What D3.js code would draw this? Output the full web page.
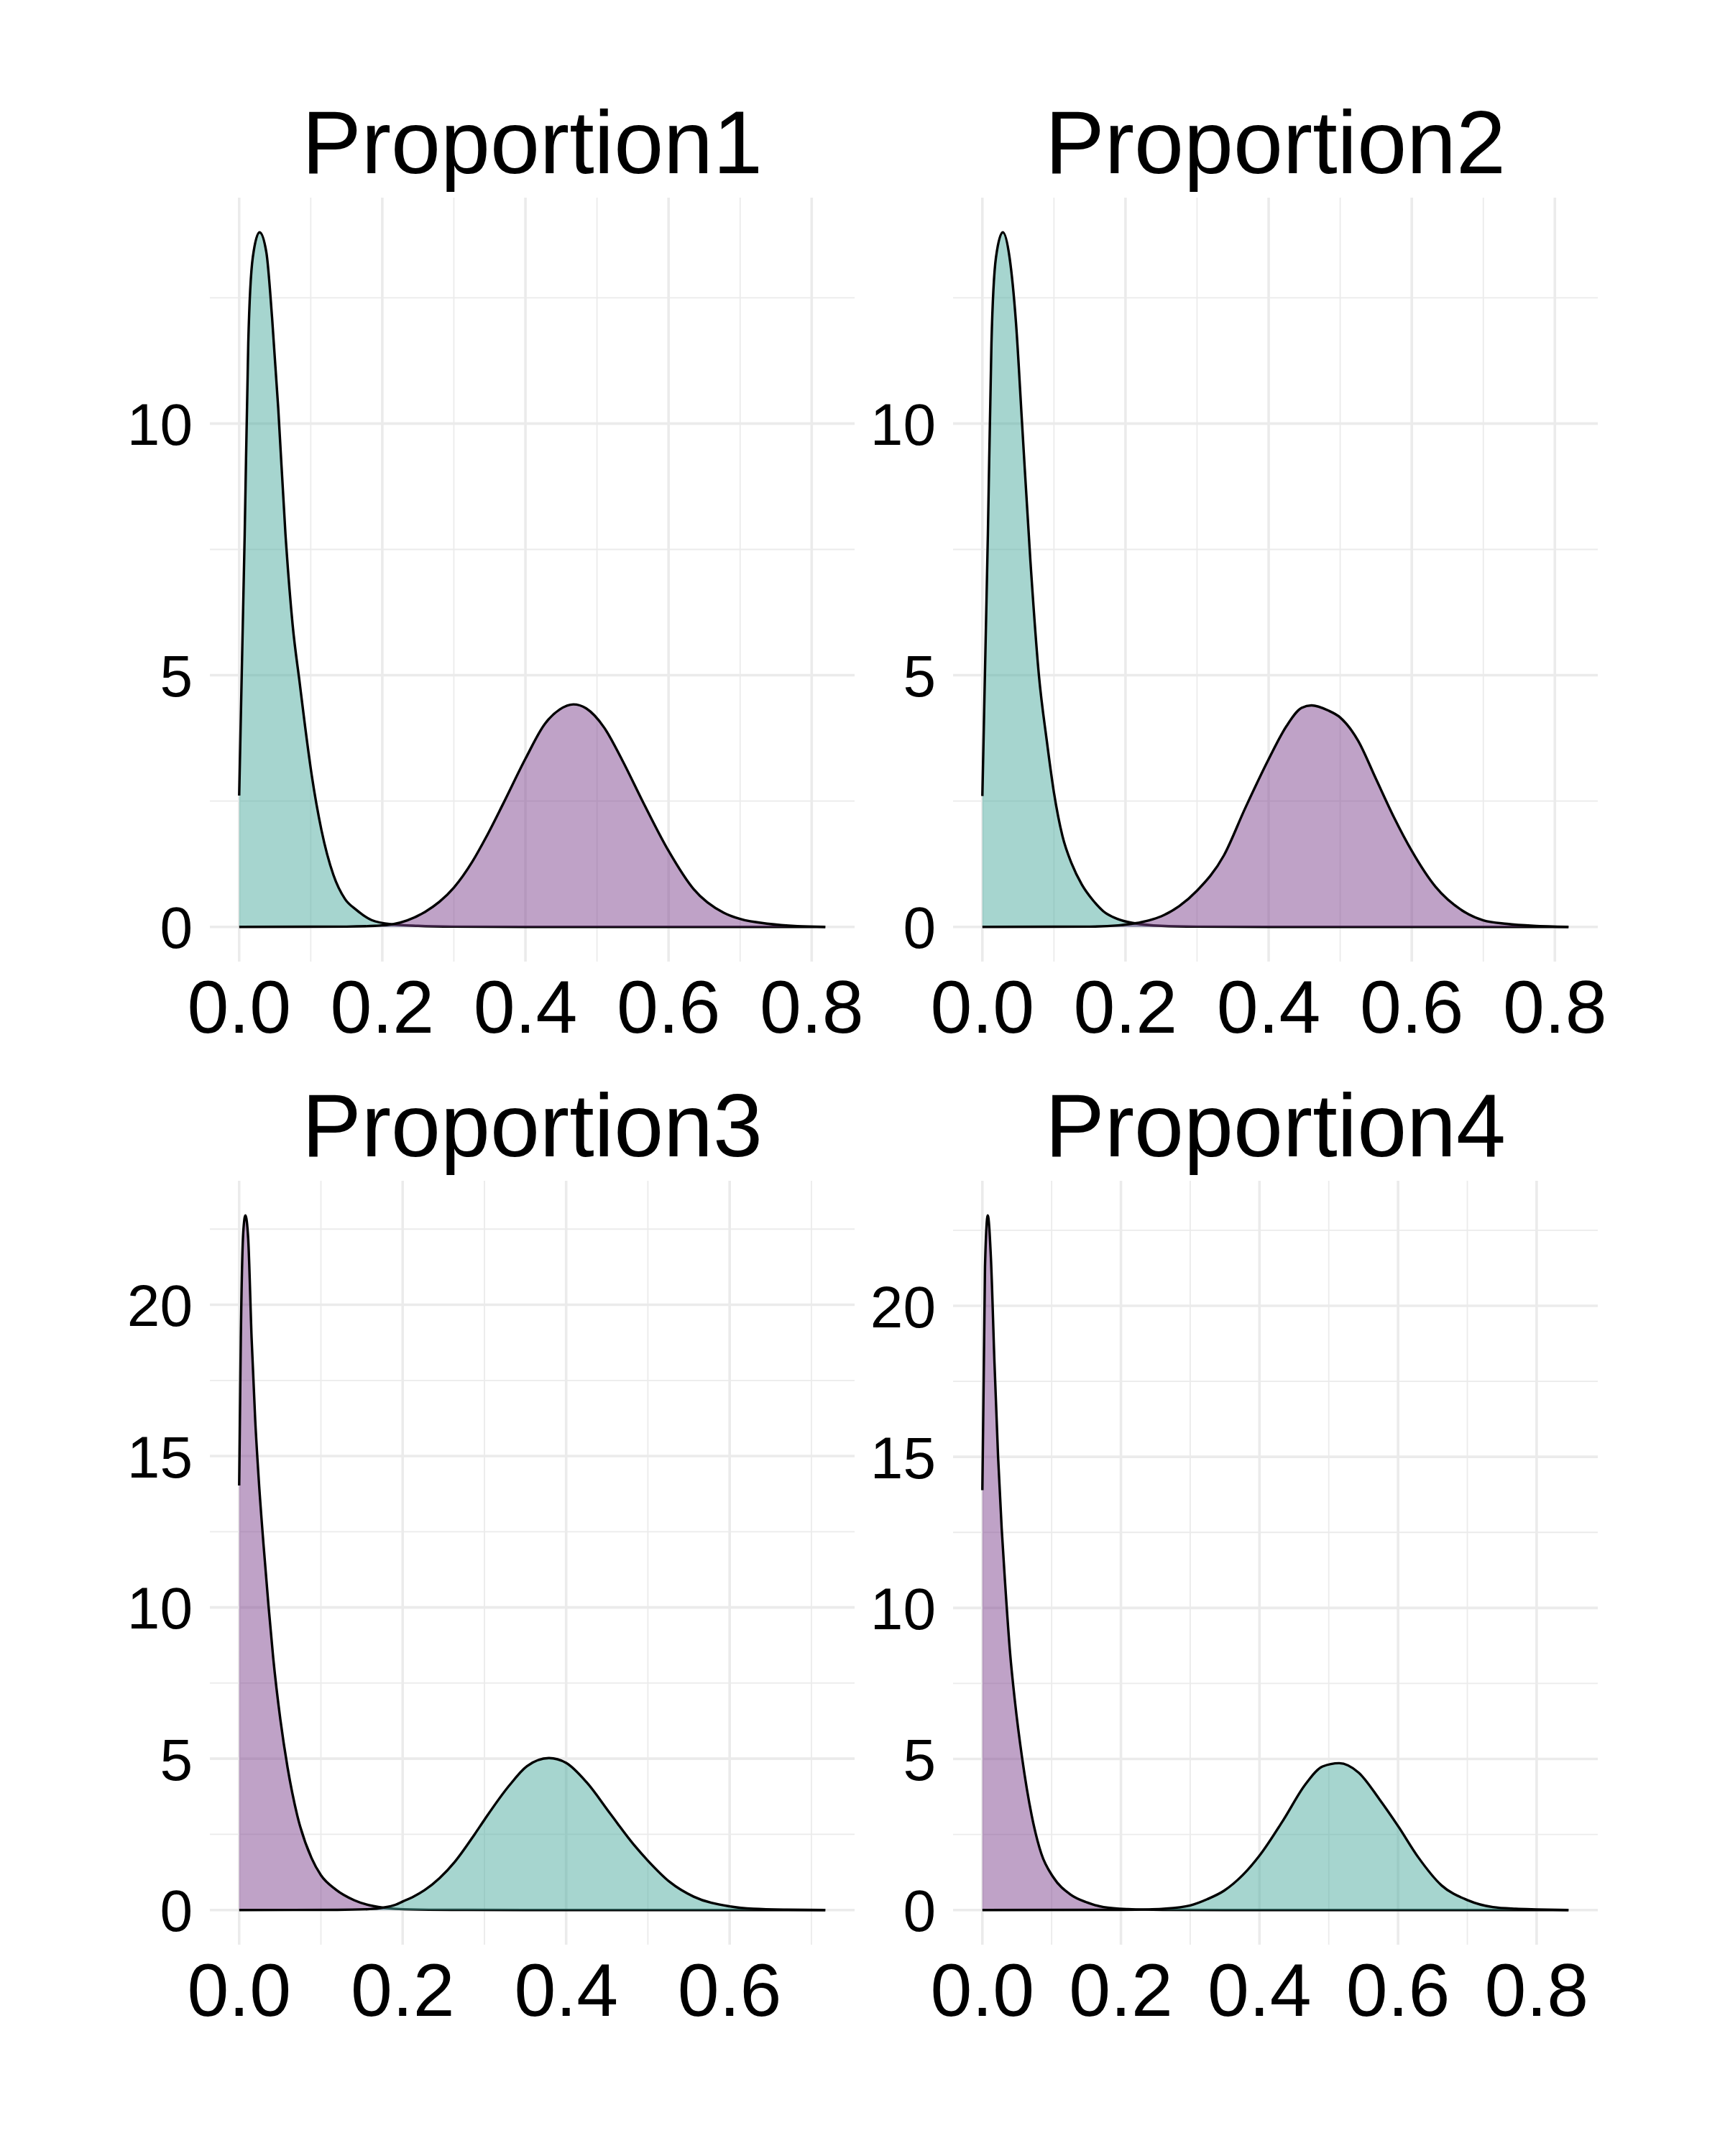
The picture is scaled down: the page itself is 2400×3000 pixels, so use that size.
<!doctype html>
<html>
<head>
    <meta charset="utf-8">
    <title>Proportion densities</title>
    <script src="https://cdnjs.cloudflare.com/ajax/libs/d3/7.8.5/d3.min.js"></script>
    <style>
        body { margin: 0; background: #fff; }
        svg { display: block; font-family: "Liberation Sans", Arial, sans-serif; }
    </style>
</head>
<body>
<svg width="2400" height="3000"></svg>
<script>

    /* DATA: density curves, [x, density] */

    var titles = ["Proportion1", "Proportion2", "Proportion3", "Proportion4"];

    var p1Teal = [[0,2.61],[0.0077,7.8],[0.0127,11.6],[0.019,13.3],[0.0285,13.8],[0.038,13.4],[0.046,12.1],
        [0.0546,10.3],[0.0647,7.8],[0.0747,6.0],[0.0848,4.82],[0.0915,4.05],[0.1015,3.0],[0.115,1.92],
        [0.1317,1.03],[0.148,0.55],[0.1635,0.34],[0.185,0.135],[0.214,0.05],[0.25,0.02],[0.3,0.005],[0.4,0],[0.819,0]];
    var p1Purple = [[0,0],[0.15,0.005],[0.19,0.02],[0.214,0.05],[0.235,0.13],[0.26,0.3],[0.28,0.5],[0.30,0.78],
        [0.326,1.3],[0.345,1.78],[0.369,2.45],[0.40,3.34],[0.427,4.03],[0.448,4.32],[0.467,4.42],[0.485,4.34],[0.51,3.96],
        [0.535,3.32],[0.565,2.46],[0.60,1.51],[0.635,0.75],[0.677,0.28],[0.70,0.157],[0.74,0.06],[0.78,0.015],[0.819,0]];

    var p2Teal = [[0,2.6],[0.0077,7.8],[0.0127,11.6],[0.019,13.3],[0.0286,13.8],[0.038,13.3],[0.047,12.0],
        [0.0555,10.0],[0.067,7.3],[0.079,5.0],[0.09,3.7],[0.1,2.67],[0.112,1.8],[0.125,1.25],[0.139,0.84],
        [0.155,0.52],[0.169,0.31],[0.19,0.15],[0.213,0.07],[0.25,0.02],[0.3,0.005],[0.4,0],[0.819,0]];
    var p2Purple = [[0,0],[0.15,0.005],[0.19,0.03],[0.213,0.07],[0.233,0.13],[0.25,0.21],[0.275,0.41],[0.30,0.72],
        [0.3375,1.42],[0.367,2.35],[0.40,3.33],[0.425,3.99],[0.446,4.35],[0.46,4.40],[0.483,4.30],[0.50,4.16],
        [0.525,3.70],[0.55,2.94],[0.575,2.18],[0.60,1.51],[0.633,0.80],[0.671,0.32],[0.70,0.13],[0.733,0.06],
        [0.77,0.02],[0.819,0]];

    var p3Purple = [[0,14.03],[0.002,18.9],[0.005,22.4],[0.0076,22.95],[0.011,22.2],[0.0152,18.9],[0.0196,16.2],
        [0.024,14.2],[0.030,12.0],[0.0358,10.08],[0.0416,8.34],[0.0504,6.29],[0.0592,4.71],[0.071,3.13],
        [0.0886,1.71],[0.10,1.15],[0.118,0.68],[0.141,0.32],[0.1765,0.08],[0.21,0.02],[0.26,0.005],[0.35,0],[0.717,0]];
    var p3Teal = [[0,0],[0.12,0.005],[0.16,0.03],[0.1765,0.08],[0.191,0.17],[0.20,0.28],[0.213,0.44],[0.227,0.66],
        [0.245,1.05],[0.264,1.6],[0.288,2.5],[0.30,2.98],[0.33,4.10],[0.352,4.75],[0.379,5.02],[0.40,4.86],[0.425,4.22],
        [0.454,3.18],[0.483,2.15],[0.50,1.63],[0.527,0.92],[0.556,0.44],[0.60,0.12],[0.629,0.04],[0.67,0.01],[0.717,0]];

    var p4Purple = [[0,13.9],[0.0038,21.3],[0.0078,22.99],[0.0123,21.6],[0.0175,18.1],[0.0227,15.0],[0.0279,12.63],
        [0.0331,10.73],[0.04,8.51],[0.0469,6.93],[0.0574,5.03],[0.0712,3.13],[0.085,1.87],[0.1025,1.08],
        [0.1267,0.52],[0.151,0.25],[0.175,0.095],[0.21,0.03],[0.26,0.005],[0.35,0],[0.846,0]];
    var p4Teal = [[0,0],[0.2,0.005],[0.241,0.02],[0.262,0.04],[0.30,0.15],[0.325,0.36],[0.349,0.64],[0.376,1.16],
        [0.40,1.8],[0.435,3.0],[0.466,4.15],[0.491,4.75],[0.515,4.86],[0.543,4.55],[0.573,3.67],[0.60,2.78],
        [0.629,1.75],[0.663,0.81],[0.70,0.33],[0.737,0.095],[0.77,0.04],[0.80,0.02],[0.846,0]];

    var xTicks = [[0, 0.2, 0.4, 0.6, 0.8], [0, 0.2, 0.4, 0.6, 0.8], [0, 0.2, 0.4, 0.6], [0, 0.2, 0.4, 0.6, 0.8]];
    var yTicks = [[0, 5, 10], [0, 5, 10], [0, 5, 10, 15, 20], [0, 5, 10, 15, 20]];

    var teal = "#4dab9f", purple = "#7f458f";

    var panels = [
        {title: titles[0], series: [p1Teal, p1Purple], fills: [teal, purple], xt: xTicks[0], yt: yTicks[0], left: 292, top: 275},
        {title: titles[1], series: [p2Teal, p2Purple], fills: [teal, purple], xt: xTicks[1], yt: yTicks[1], left: 1326, top: 275},
        {title: titles[2], series: [p3Purple, p3Teal], fills: [purple, teal], xt: xTicks[2], yt: yTicks[2], left: 292, top: 1643},
        {title: titles[3], series: [p4Purple, p4Teal], fills: [purple, teal], xt: xTicks[3], yt: yTicks[3], left: 1326, top: 1643}
    ];

    var W = 897, H = 1063;
    var svg = d3.select("svg");

    panels.forEach(drawPanel);

    function drawPanel(p){
        var all = p.series[0].concat(p.series[1]);
        var xe = d3.extent(all, d => d[0]);
        var ye = d3.extent(all, d => d[1]);
        var xPad = (xe[1] - xe[0]) * 0.05, yPad = (ye[1] - ye[0]) * 0.05;

        var xScale = d3.scaleLinear().domain([xe[0] - xPad, xe[1] + xPad]).range([0, W]);
        var yScale = d3.scaleLinear().domain([ye[0] - yPad, ye[1] + yPad]).range([H, 0]);

        var g = svg.append("g").attr("transform", "translate(" + p.left + "," + p.top + ")");

        // minor grid (halfway between major ticks)
        var xStep = p.xt[1] - p.xt[0], yStep = p.yt[1] - p.yt[0];
        var xMinor = d3.range(p.xt[0] + xStep / 2, xScale.domain()[1], xStep);
        var yMinor = d3.range(p.yt[0] + yStep / 2, yScale.domain()[1], yStep);

        g.selectAll(".xminor").data(xMinor).enter().append("line")
            .attr("x1", d => xScale(d)).attr("x2", d => xScale(d))
            .attr("y1", 0).attr("y2", H)
            .style("stroke", "#ebebeb").style("stroke-width", 1.8);
        g.selectAll(".yminor").data(yMinor).enter().append("line")
            .attr("y1", d => yScale(d)).attr("y2", d => yScale(d))
            .attr("x1", 0).attr("x2", W)
            .style("stroke", "#ebebeb").style("stroke-width", 1.8);

        // major grid
        g.selectAll(".xmajor").data(p.xt).enter().append("line")
            .attr("x1", d => xScale(d)).attr("x2", d => xScale(d))
            .attr("y1", 0).attr("y2", H)
            .style("stroke", "#ebebeb").style("stroke-width", 3.6);
        g.selectAll(".ymajor").data(p.yt).enter().append("line")
            .attr("y1", d => yScale(d)).attr("y2", d => yScale(d))
            .attr("x1", 0).attr("x2", W)
            .style("stroke", "#ebebeb").style("stroke-width", 3.6);

        // densities
        var area = d3.area().curve(d3.curveMonotoneX)
            .x(d => xScale(d[0])).y0(yScale(0)).y1(d => yScale(d[1]));
        var line = d3.line().curve(d3.curveMonotoneX)
            .x(d => xScale(d[0])).y(d => yScale(d[1]));

        p.series.forEach(function(s, i){
            g.append("path").attr("d", area(s))
                .style("fill", p.fills[i]).style("fill-opacity", 0.5);
            g.append("path").attr("d", line(s))
                .style("fill", "none").style("stroke", "#000").style("stroke-width", 3.4)
                .style("stroke-linejoin", "round");
        });

        // axes text
        g.selectAll(".xlab").data(p.xt).enter().append("text")
            .attr("x", d => xScale(d)).attr("y", H + 99)
            .attr("text-anchor", "middle")
            .style("font-size", "104px").style("fill", "#000")
            .text(d => d3.format(".1f")(d));

        g.selectAll(".ylab").data(p.yt).enter().append("text")
            .attr("x", -24).attr("y", d => yScale(d))
            .attr("dy", "0.36em")
            .attr("text-anchor", "end")
            .style("font-size", "82px").style("fill", "#000")
            .text(d => d);

        g.append("text")
            .attr("x", W / 2).attr("y", -34)
            .attr("text-anchor", "middle")
            .style("font-size", "124px").style("fill", "#000")
            .text(p.title);
    }

</script>
</body>
</html>
